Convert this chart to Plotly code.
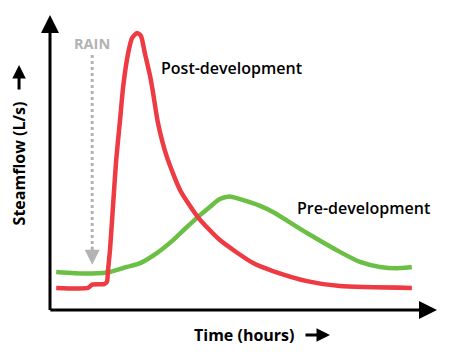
import plotly.graph_objects as go

# Post-development hydrograph (time in arbitrary hours, flow in arbitrary L/s)
post_t = [0.16, 0.98, 1.09, 1.40, 1.47, 1.50, 1.55, 1.63, 1.71, 1.81, 1.89, 2.02, 2.12,
          2.25, 2.35, 2.45, 2.58, 2.66, 2.79, 3.02, 3.36, 3.82, 4.39, 5.25, 5.76, 6.64,
          7.49, 9.35]
post_q = [0.75, 0.75, 0.86, 0.88, 0.95, 1.36, 2.03, 3.56, 5.08, 6.44, 7.56, 8.71, 9.22,
          9.39, 9.29, 8.71, 7.97, 7.39, 6.34, 5.19, 4.07, 3.15, 2.37, 1.59, 1.32, 0.98,
          0.81, 0.75]

# Pre-development hydrograph
pre_t = [0.16, 0.65, 1.09, 1.55, 1.99, 2.33, 2.76, 3.18, 3.51, 3.82, 4.13, 4.39, 4.63,
         4.91, 5.43, 5.76, 6.64, 7.49, 8.01, 8.53, 9.04, 9.35]
pre_q = [1.29, 1.25, 1.24, 1.29, 1.46, 1.59, 1.93, 2.37, 2.78, 3.15, 3.49, 3.76, 3.85,
         3.76, 3.53, 3.32, 2.61, 1.97, 1.63, 1.46, 1.42, 1.46]

# Rain marker (dotted drop line)
rain_t = [1.09, 1.09]
rain_q = [8.64, 1.86]

FONT = "Open Sans"
RED = "#ee3a43"
GREEN = "#6cbf45"
GRAY = "#b3b3b3"

fig = go.Figure()
fig.add_trace(go.Scatter(x=rain_t, y=rain_q, mode="lines",
                         line=dict(color=GRAY, width=3, dash="dot"), hoverinfo="skip"))
fig.add_trace(go.Scatter(x=pre_t, y=pre_q, mode="lines",
                         line=dict(color=GREEN, width=4.5, shape="spline", smoothing=0.8),
                         name="Pre-development"))
fig.add_trace(go.Scatter(x=post_t, y=post_q, mode="lines",
                         line=dict(color=RED, width=4.5, shape="spline", smoothing=0.6),
                         name="Post-development"))


def arrow(x, y, ax, ay, color="black", width=3, size=1.2):
    return dict(x=x, y=y, ax=ax, ay=ay, xref="x", yref="y", axref="x", ayref="y",
                text="", showarrow=True, arrowhead=2, arrowwidth=width, arrowsize=size,
                arrowcolor=color, standoff=0)


def paper_arrow(x, y, ax, ay):
    return dict(x=x, y=y, ax=ax, ay=ay, xref="paper", yref="paper", axref="pixel",
                ayref="pixel", text="", showarrow=True, arrowhead=2, arrowwidth=3,
                arrowsize=0.9, arrowcolor="black", standoff=0)


ann = []
# axis lines with arrowheads
ann.append(arrow(0, 10, 0, -0.05))
ann.append(arrow(10, 0, -0.03, 0))
# rain arrowhead
ann.append(arrow(1.09, 1.53, 1.09, 2.2, color=GRAY, width=2, size=1.5))
# title arrows
ann.append(paper_arrow(0.7235, -0.0847, -26, 0))
ann.append(paper_arrow(-0.080, 0.8305, 0, 26))

ann.append(dict(x=1.09, y=9.02, xref="x", yref="y", text="<b>RAIN</b>", showarrow=False,
                font=dict(family=FONT, size=14.5, color=GRAY)))
ann.append(dict(x=4.68, y=8.20, xref="x", yref="y", text="Post-development", showarrow=False,
                font=dict(family=FONT, size=16, color="black", weight=600)))
ann.append(dict(x=8.11, y=3.46, xref="x", yref="y", text="Pre-development", showarrow=False,
                font=dict(family=FONT, size=16, color="black", weight=600)))
ann.append(dict(x=0.50, y=-0.085, xref="paper", yref="paper", text="<b>Time (hours)</b>",
                xanchor="center", yanchor="middle",
                showarrow=False, font=dict(family=FONT, size=16, color="black")))
ann.append(dict(x=-0.08, y=0.497, xref="paper", yref="paper", text="<b>Steamflow (L/s)</b>",
                xanchor="center", yanchor="middle",
                showarrow=False, textangle=-90, font=dict(family=FONT, size=16, color="black")))

fig.update_layout(
    width=450, height=355,
    margin=dict(l=50, r=13, t=15, b=45),
    paper_bgcolor="white", plot_bgcolor="white",
    showlegend=False,
    xaxis=dict(range=[0, 10], visible=False, fixedrange=True),
    yaxis=dict(range=[0, 10], visible=False, fixedrange=True),
    annotations=ann,
)

fig.write_html("out.html")
